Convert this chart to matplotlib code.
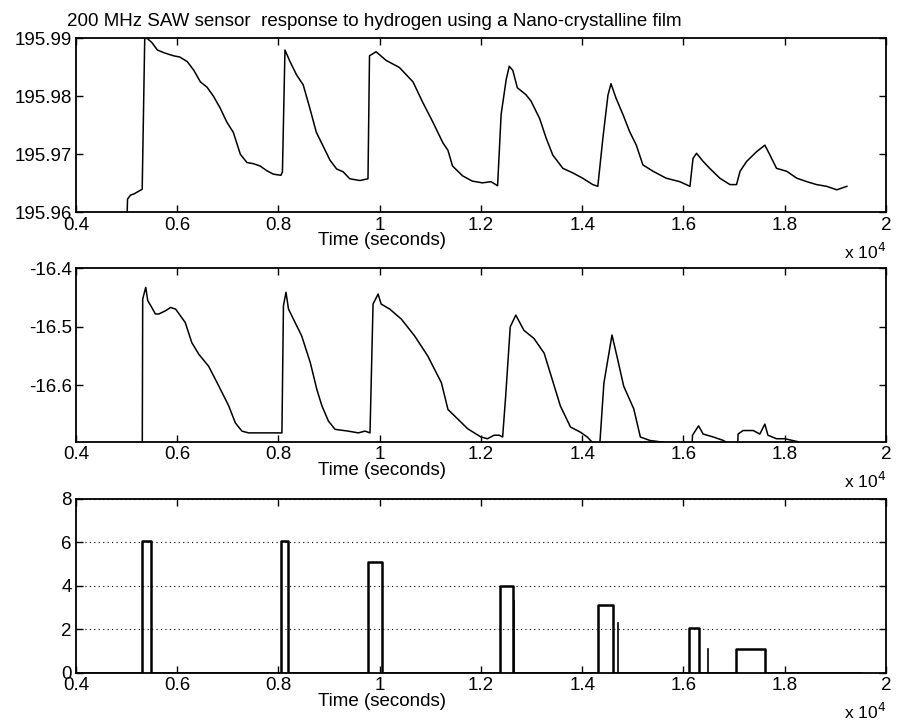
import matplotlib
matplotlib.use("Agg")
import matplotlib.pyplot as plt
import numpy as np

plt.rcParams['font.family'] = ['Liberation Sans', 'DejaVu Sans']

# ---------------- data (time in seconds) ----------------
t_freq = [4000, 5000, 5020, 5080, 5150, 5250, 5310, 5360, 5410, 5500, 5610, 5750, 5930, 6050, 6200,
          6330, 6460, 6590, 6720, 6850, 6980, 7110, 7250, 7380, 7510, 7640, 7770, 7900, 8050,
          8080, 8130, 8230, 8360, 8490, 8620, 8750, 8880, 9020, 9150, 9280, 9410, 9610, 9770,
          9800, 9930, 10130, 10390, 10660, 10850, 11050, 11250, 11350, 11440, 11640, 11830,
          12030, 12200, 12330, 12400, 12500, 12560, 12630, 12720, 12890, 12990, 13160, 13290,
          13420, 13620, 13820, 14010, 14210, 14310, 14410, 14510, 14570, 14670, 14810, 14940,
          15070, 15200, 15400, 15660, 15930, 16130, 16190, 16260, 16390, 16520, 16720, 16920,
          17050, 17120, 17250, 17450, 17610, 17710, 17840, 18040, 18240, 18440, 18630, 18830,
          19030, 19230]
freq = [195.955, 195.955, 195.9623, 195.9630, 195.9632, 195.9637, 195.9640, 195.9900, 195.9900,
        195.9893, 195.9880, 195.9875, 195.9870, 195.9868, 195.9860, 195.9845, 195.9825,
        195.9816, 195.9800, 195.9780, 195.9756, 195.9738, 195.9700, 195.9686, 195.9684,
        195.9680, 195.9672, 195.9666, 195.9664, 195.9670, 195.9880, 195.9860, 195.9837,
        195.9820, 195.9780, 195.9738, 195.9715, 195.9690, 195.9675, 195.9670, 195.9658,
        195.9655, 195.9658, 195.9870, 195.9877, 195.9862, 195.9850, 195.9825, 195.9790,
        195.9756, 195.9720, 195.9707, 195.9680, 195.9663, 195.9654, 195.9651, 195.9653,
        195.9646, 195.9769, 195.9829, 195.9852, 195.9845, 195.9815, 195.9803, 195.9792,
        195.9762, 195.9728, 195.9699, 195.9676, 195.9668, 195.9659, 195.9648, 195.9645,
        195.9728, 195.9802, 195.9822, 195.9797, 195.9768, 195.9739, 195.9716, 195.9682,
        195.9671, 195.9659, 195.9653, 195.9645, 195.9693, 195.9702, 195.9688, 195.9676,
        195.9659, 195.9648, 195.9648, 195.9671, 195.9688, 195.9705, 195.9716, 195.9699,
        195.9676, 195.9671, 195.9659, 195.9653, 195.9648, 195.9645, 195.9639, 195.9645]

t_phase = [4000, 5310, 5320, 5380, 5420, 5480, 5570, 5640, 5770, 5870, 5970, 6160, 6290, 6430,
           6620, 6790, 6890, 7020, 7150, 7280, 7410, 7610, 7870, 8070, 8100, 8150, 8200, 8330,
           8460, 8630, 8760, 8860, 8990, 9120, 9380, 9580, 9710, 9810, 9870, 9970, 10030,
           10200, 10430, 10690, 10950, 11220, 11350, 11480, 11740, 12000, 12130, 12260, 12360,
           12430, 12490, 12580, 12690, 12850, 13050, 13250, 13410, 13570, 13770, 13970, 14100,
           14200, 14300, 14310, 14430, 14590, 14690, 14820, 15020, 15150, 15340, 15610, 15800,
           16150, 16180, 16300, 16390, 16590, 16790, 16850, 16900, 17060, 17080, 17180, 17380,
           17510, 17610, 17670, 17840, 18000, 18260, 18400]
phase = [-16.75, -16.75, -16.4526, -16.4326, -16.4554, -16.4640, -16.4780, -16.4780, -16.4726,
         -16.4670, -16.4697, -16.4926, -16.5270, -16.5470, -16.5670, -16.5954, -16.6126,
         -16.6350, -16.6640, -16.6780, -16.6810, -16.6810, -16.6810, -16.6810, -16.4640,
         -16.4410, -16.4697, -16.4926, -16.5154, -16.5610, -16.6069, -16.6350, -16.6610,
         -16.6750, -16.6780, -16.6810, -16.6780, -16.6810, -16.4611, -16.4440, -16.4611,
         -16.4697, -16.4869, -16.5154, -16.5497, -16.5954, -16.6411, -16.6520, -16.6740,
         -16.6880, -16.6910, -16.6850, -16.6850, -16.6880, -16.6180, -16.5000, -16.4800,
         -16.5060, -16.5200, -16.5450, -16.5900, -16.6350, -16.6710, -16.6800, -16.6880,
         -16.6970, -16.75, -16.75, -16.5960, -16.5140, -16.5510, -16.6010, -16.6400, -16.6880,
         -16.6940, -16.6970, -16.75, -16.75, -16.6850, -16.6690, -16.6830, -16.6880, -16.6940,
         -16.6970, -16.75, -16.75, -16.6830, -16.6770, -16.6770, -16.6830, -16.6660, -16.6850,
         -16.6910, -16.6910, -16.6960, -16.75]

pulse_start = [5300, 8060, 9770, 12370, 14310, 16110, 17040]
pulse_end = [5480, 8190, 10040, 12640, 14610, 16300, 17620]
pulse_height = [6.05, 6.05, 5.10, 4.00, 3.10, 2.05, 1.10]
spike_time = [12660, 14700, 16490]
spike_height = [3.3, 2.3, 1.1]

xticks = [4000, 6000, 8000, 10000, 12000, 14000, 16000, 18000, 20000]
xticklabels = ['0.4', '0.6', '0.8', '1', '1.2', '1.4', '1.6', '1.8', '2']
yticks1 = [195.96, 195.97, 195.98, 195.99]
yticklabels1 = ['195.96', '195.97', '195.98', '195.99']
yticks2 = [-16.6, -16.5, -16.4]
yticklabels2 = ['-16.6', '-16.5', '-16.4']
yticks3 = [0, 2, 4, 6, 8]

title = '200 MHz SAW sensor  response to hydrogen using a Nano-crystalline film'

# ---------------- figure ----------------
fig = plt.figure(figsize=(8.98, 7.25), dpi=100)
L, W, H = 0.0845, 0.902, 0.240
ax1 = fig.add_axes([L, 0.707, W, H])
ax2 = fig.add_axes([L, 0.390, W, H])
ax3 = fig.add_axes([L, 0.072, W, H])

FS = 13.5

ax1.plot(t_freq, freq, color='black', lw=1.1)
ax1.set_ylim(195.96, 195.99)
ax1.set_yticks(yticks1)
ax1.set_yticklabels(yticklabels1)

ax2.plot(t_phase, phase, color='black', lw=1.1)
ax2.set_ylim(-16.697, -16.4)
ax2.set_yticks(yticks2)
ax2.set_yticklabels(yticklabels2)

# build pulse trace
x3 = [4000]
y3 = [0.0]
for s, e, h in zip(pulse_start, pulse_end, pulse_height):
    x3 += [s, s, e, e]
    y3 += [0.0, h, h, 0.0]
x3.append(19500)
y3.append(0.0)
ax3.plot(x3, y3, color='black', lw=1.8)
for st, sh in zip(spike_time, spike_height):
    ax3.plot([st, st], [0, sh], color='black', lw=1.2)
ax3.set_ylim(0, 8)
ax3.set_yticks(yticks3)
ax3.grid(axis='y', linestyle=(0, (1, 3)), color='black', lw=0.8)

for ax in (ax1, ax2, ax3):
    ax.set_xlim(4000, 20000)
    ax.set_xticks(xticks)
    ax.set_xticklabels(xticklabels)
    ax.tick_params(direction='in', top=True, right=True, length=5, width=1,
                   labelsize=FS, pad=3)
    for sp in ax.spines.values():
        sp.set_linewidth(1.3)
    ax.set_xlabel('Time (seconds)', fontsize=FS)
    ax.xaxis.set_label_coords(0.378, -0.115)
    ax.text(1.0, -0.225, r'x 10$^{4}$', transform=ax.transAxes, ha='right', va='center',
            fontsize=FS - 1)

fig.text(0.0745, 0.970, title, fontsize=FS, ha='left', va='center')

fig.savefig('out.png', dpi=100)
